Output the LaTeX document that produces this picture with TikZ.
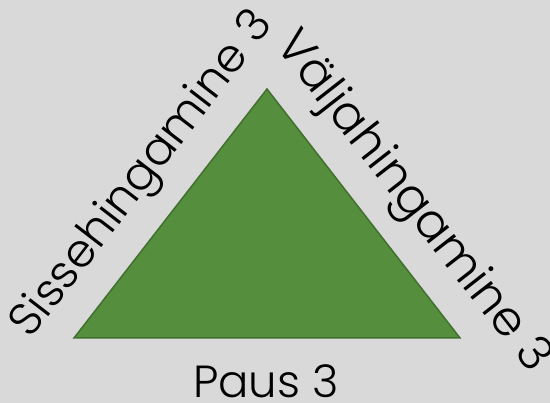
\documentclass[tikz,border=0pt]{standalone}
\usepackage{fontspec}
\IfFontExistsTF{Poppins Light}{\setmainfont{Poppins Light}}{\setmainfont{Poppins}}
\definecolor{bg}{HTML}{D9D9D9}
\definecolor{trifill}{HTML}{558E3D}
\definecolor{triedge}{HTML}{42702E}
\begin{document}
\begin{tikzpicture}[x=1pt,y=-1pt,
  lbl/.style={font=\fontsize{45}{45}\selectfont, text=black, inner sep=0pt}]
\fill[bg] (0,0) rectangle (550,403);
\useasboundingbox (0,0) rectangle (550,403);
\coordinate (A) at (267,89);
\coordinate (B) at (74,338);
\coordinate (C) at (460,338);
\draw[triedge, fill=trifill, line width=1.5pt, line join=miter] (A) -- (B) -- (C) -- cycle;
\node[lbl, font=\fontsize{46}{46}\selectfont, rotate=52.4] (left) at (143.5,175.5) {Sissehingamine 3};
\node[lbl, font=\fontsize{48}{48}\selectfont, rotate=-52] (right) at (412,203) {Väljahingamine 3};
\node[lbl, anchor=base] (bottom) at (266,398) {Paus 3};
\end{tikzpicture}
\end{document}
